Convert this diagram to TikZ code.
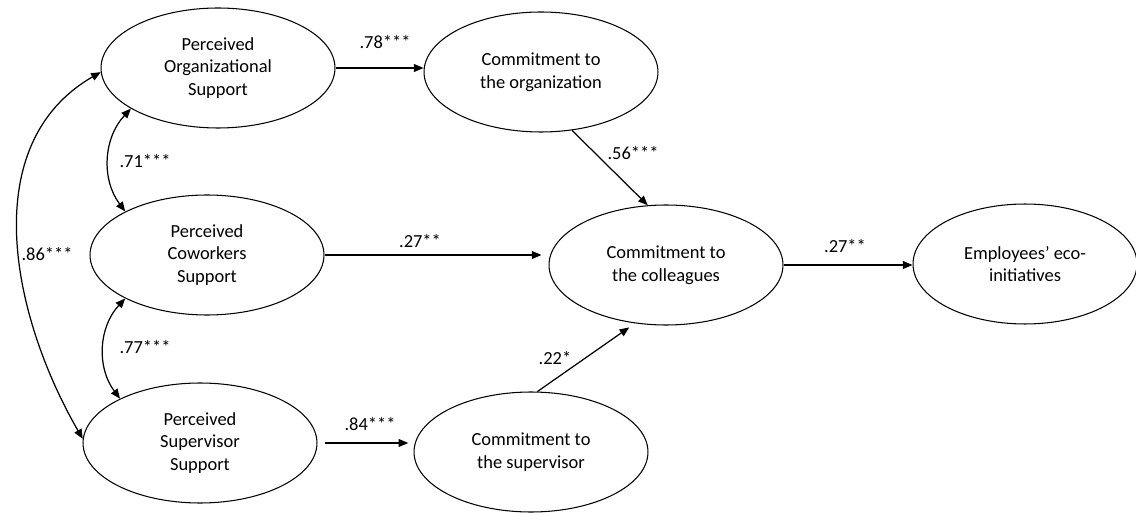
\documentclass[tikz,border=0pt]{standalone}
\usepackage{fontspec}
\setmainfont{Carlito}
\usetikzlibrary{shapes.geometric,arrows.meta}

\begin{document}
\begin{tikzpicture}[x=0.02cm,y=-0.02cm,>={Triangle[length=5.5pt,width=4.5pt]},
  latent/.style={draw, ellipse, line width=0.6pt, minimum width=4.68cm, minimum height=2.4cm, inner sep=0pt, align=center, font=\fontsize{10.5}{13}\selectfont},
  coef/.style={font=\fontsize{10.5}{13}\selectfont},
  arr/.style={line width=0.7pt}]
\useasboundingbox (0,0) rectangle (1136,513);

\node[latent] (pos) at (218,68) {Perceived\\Organizational\\Support};
\node[latent] (pcs) at (207,255) {Perceived\\Coworkers\\Support};
\node[latent] (pss) at (200,443) {Perceived\\Supervisor\\Support};
\node[latent] (cto) at (541,72) {Commitment to\\the organization};
\node[latent] (ctc) at (666,265) {Commitment to\\the colleagues};
\node[latent] (cts) at (531,452) {Commitment to\\the supervisor};
\node[latent, minimum width=4.48cm] (emp) at (1025,264) {Employees’ eco-\\initiatives};

\draw[arr,->] (pos.east) -- (pos.east -| cto.west);
\draw[arr,->] (cto.-62) -- (ctc.107);
\draw[arr,->, shorten >=4pt] (pcs.east) -- (pcs.east -| ctc.west);
\draw[arr,->, shorten >=4pt] (cts.84) -- (ctc.242);
\draw[arr,->, shorten <=4.5pt, shorten >=3pt] (pss.east) -- (pss.east -| cts.west);
\draw[arr,->] (ctc.east) -- (ctc.east -| emp.west);

\draw[arr,<->] (pos.205) to[bend right=40] (pcs.152);
\draw[arr,<->] (pcs.208) to[bend right=40] (pss.151);
\draw[arr,<->] (pos.182) to[out=210, in=120] (pss.178);

\node[coef] (c78) at (385,42) {.78***};
\node[coef] (c56) at (633,153) {.56***};
\node[coef] (c27a) at (420,241) {.27**};
\node[coef] (c22) at (555,358) {.22*};
\node[coef] (c84) at (370,424) {.84***};
\node[coef] (c27b) at (845,246) {.27**};
\node[coef] (c71) at (145,161) {.71***};
\node[coef] (c77) at (145,347) {.77***};
\node[coef] (c86) at (47,254) {.86***};
\end{tikzpicture}
\end{document}
